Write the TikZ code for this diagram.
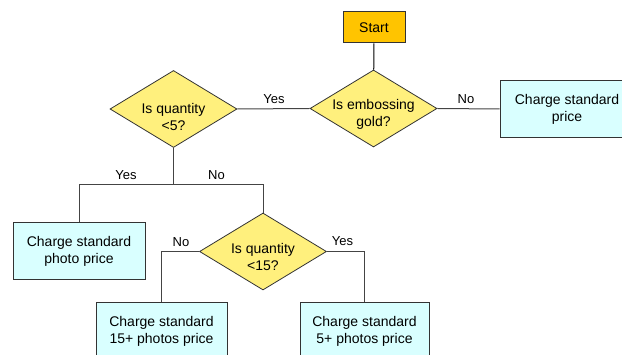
\documentclass[tikz,border=0pt]{standalone}
\usepackage{fontspec}
\setmainfont{Liberation Sans}
\usetikzlibrary{shapes.geometric}
\definecolor{startfill}{HTML}{FFC400}
\definecolor{decfill}{HTML}{FFF07D}
\definecolor{boxfill}{HTML}{D9FFFF}
\definecolor{edgecol}{HTML}{333333}
\definecolor{conncol}{HTML}{444444}
\begin{document}
\begin{tikzpicture}[x=1pt,y=-1pt,
  startbox/.style={draw=edgecol, fill=startfill, line width=1pt, minimum width=62pt, minimum height=31pt, inner sep=0pt, font=\fontsize{14}{17}\selectfont},
  decision/.style={shape=diamond, draw=edgecol, fill=decfill, line width=0.8pt, minimum width=127pt, minimum height=77pt, inner sep=0pt},
  dtext/.style={align=center, font=\fontsize{14}{17}\selectfont},
  action/.style={draw=edgecol, fill=boxfill, line width=1pt, minimum width=131pt, minimum height=57pt, inner sep=0pt, align=center, font=\fontsize{14}{17}\selectfont},
  conn/.style={draw=conncol, line width=1pt},
  lab/.style={font=\fontsize{13}{15}\selectfont, inner sep=0pt, anchor=base}]
\useasboundingbox (0,0) rectangle (622,355);
\clip (0,0) rectangle (622,355);
% nodes
\node[startbox] (start) at (374,27.5) {Start};
\node[decision, label={[dtext,yshift=-6pt]center:Is embossing\\gold?}] (emb) at (373.5,108.5) {};
\node[action, minimum width=134pt] (std) at (567,109) {Charge standard\\price};
\node[decision, label={[dtext,yshift=-8pt]center:Is quantity\\<5?}] (q5) at (173.5,109) {};
\node[action, minimum width=132pt] (photo) at (79,251.5) {Charge standard\\photo price};
\node[decision, label={[dtext,yshift=-5pt]center:Is quantity\\<15?}] (q15) at (263,251.5) {};
\node[action] (p15) at (161.5,331.5) {Charge standard\\15+ photos price};
\node[action, minimum width=129pt] (p5) at (364.5,331.5) {Charge standard\\5+ photos price};
\coordinate (j1) at (173.5,185);
% connectors
\draw[conn, draw=black] (start) -- (emb);
\draw[conn] (emb.east) -- (std.west);
\draw[conn] (emb.west) -- (q5.east);
\draw[conn] (q5.south) -- (j1);
\draw[conn] (j1) -| (photo.north);
\draw[conn] (j1) -| (q15.north);
\draw[conn] (q15.west) -| (p15.north);
\draw[conn] (q15.east) -| (p5.north);
% labels
\node[lab] (lno1) at (466,104) {No};
\node[lab] (lyes1) at (274,104) {Yes};
\node[lab] (lyes2) at (126,179.5) {Yes};
\node[lab] (lno2) at (216.5,180) {No};
\node[lab] (lno3) at (181,246.5) {No};
\node[lab] (lyes3) at (342.5,246) {Yes};
\end{tikzpicture}
\end{document}
